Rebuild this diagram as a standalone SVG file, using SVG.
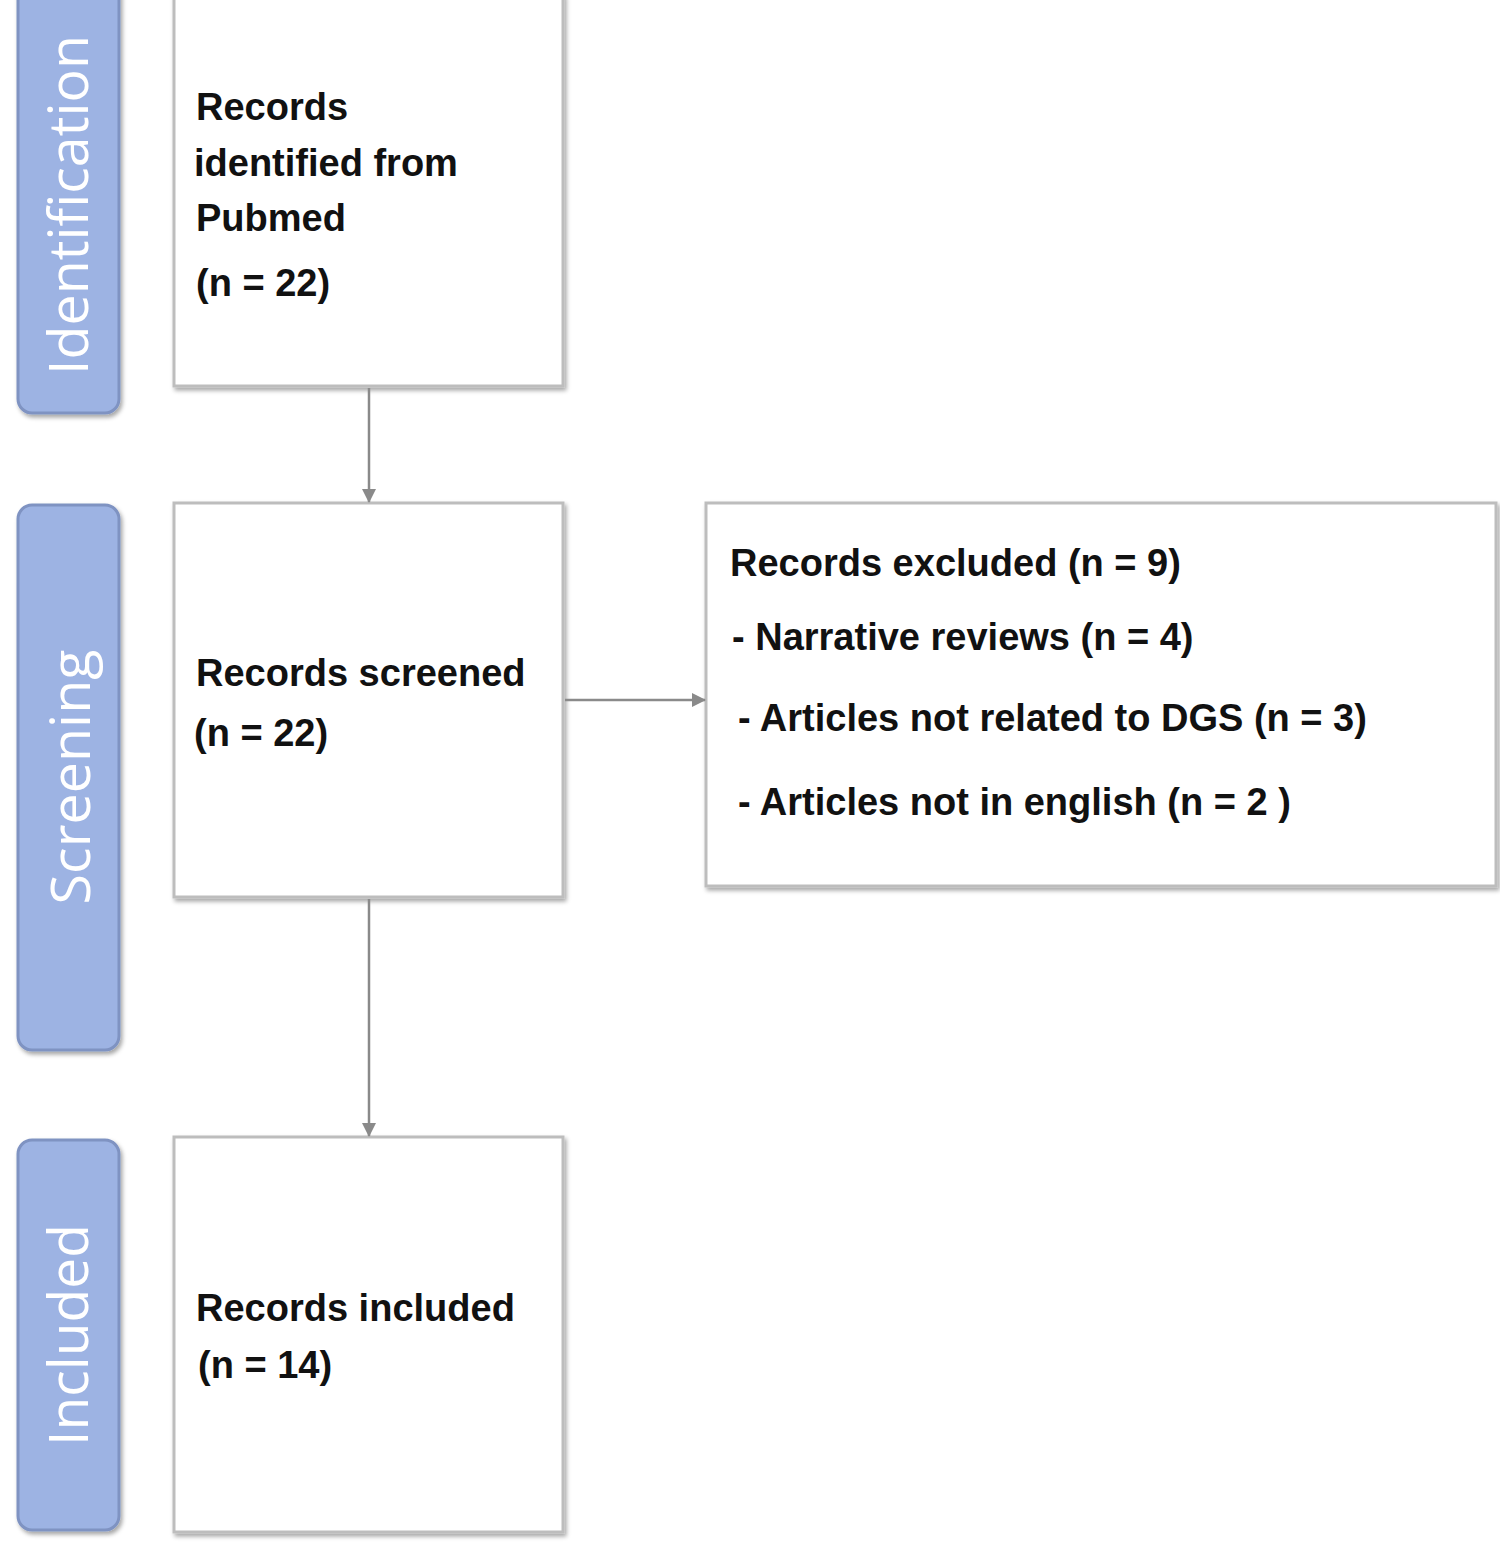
<svg xmlns="http://www.w3.org/2000/svg" width="1500" height="1553" viewBox="0 0 1500 1553">
<style>
.bar{fill:#9db3e3;stroke:#7f93c2;stroke-width:3}
.bt{fill:#fff;font-family:"Open Sans","Liberation Sans",sans-serif;font-size:54px;text-anchor:middle}
.box{fill:#fff;stroke:#bdbdbd;stroke-width:3}
.t{fill:#111;font-family:"Liberation Sans",sans-serif;font-weight:bold;font-size:38px}
.c{stroke:#8a8a8a;stroke-width:2.5;fill:none;marker-end:url(#a)}
</style>
<defs>
<marker id="a" markerWidth="14" markerHeight="14" refX="13" refY="7" orient="auto" markerUnits="userSpaceOnUse"><path d="M0,0L14,7L0,14z" fill="#8a8a8a"/></marker>
<filter id="s"><feDropShadow dx="2" dy="3" stdDeviation="2" flood-opacity="0.35"/></filter>
</defs>
<g id="bar-identification"><rect class="bar" x="18" y="-20" width="101" height="433" rx="14" filter="url(#s)"/><text class="bt" transform="translate(88,205) rotate(-90)" textLength="340" lengthAdjust="spacingAndGlyphs">Identification</text></g>
<g id="bar-screening"><rect class="bar" x="18" y="505" width="101" height="545" rx="14" filter="url(#s)"/><text class="bt" transform="translate(90,777) rotate(-90)" textLength="255" lengthAdjust="spacingAndGlyphs">Screening</text></g>
<g id="bar-included"><rect class="bar" x="18" y="1140" width="101" height="390" rx="14" filter="url(#s)"/><text class="bt" transform="translate(88,1335) rotate(-90)" textLength="222" lengthAdjust="spacingAndGlyphs">Included</text></g>
<g id="n1"><rect class="box" x="174" y="-5" width="389" height="391" filter="url(#s)"/><text class="t" x="196" y="120">Records</text><text class="t" x="194" y="176">identified from</text><text class="t" x="196" y="231">Pubmed</text><text class="t" x="196" y="296">(n = 22)</text></g>
<g id="n2"><rect class="box" x="174" y="503" width="389" height="394" filter="url(#s)"/><text class="t" x="196" y="686">Records screened</text><text class="t" x="194" y="746">(n = 22)</text></g>
<g id="n3"><rect class="box" x="706" y="503" width="790" height="383" filter="url(#s)"/><text class="t" x="730" y="576">Records excluded  (n = 9)</text><text class="t" x="732" y="650">-  Narrative reviews (n = 4)</text><text class="t" x="738" y="731">- Articles not related to DGS (n = 3)</text><text class="t" x="738" y="815">- Articles not in english (n = 2 )</text></g>
<g id="n4"><rect class="box" x="174" y="1137" width="389" height="395" filter="url(#s)"/><text class="t" x="196" y="1321">Records included</text><text class="t" x="198" y="1378">(n = 14)</text></g>
<g id="connectors">
<path class="c" d="M369,388V502"/>
<path class="c" d="M565,700H705"/>
<path class="c" d="M369,899V1136"/>
</g>
</svg>
